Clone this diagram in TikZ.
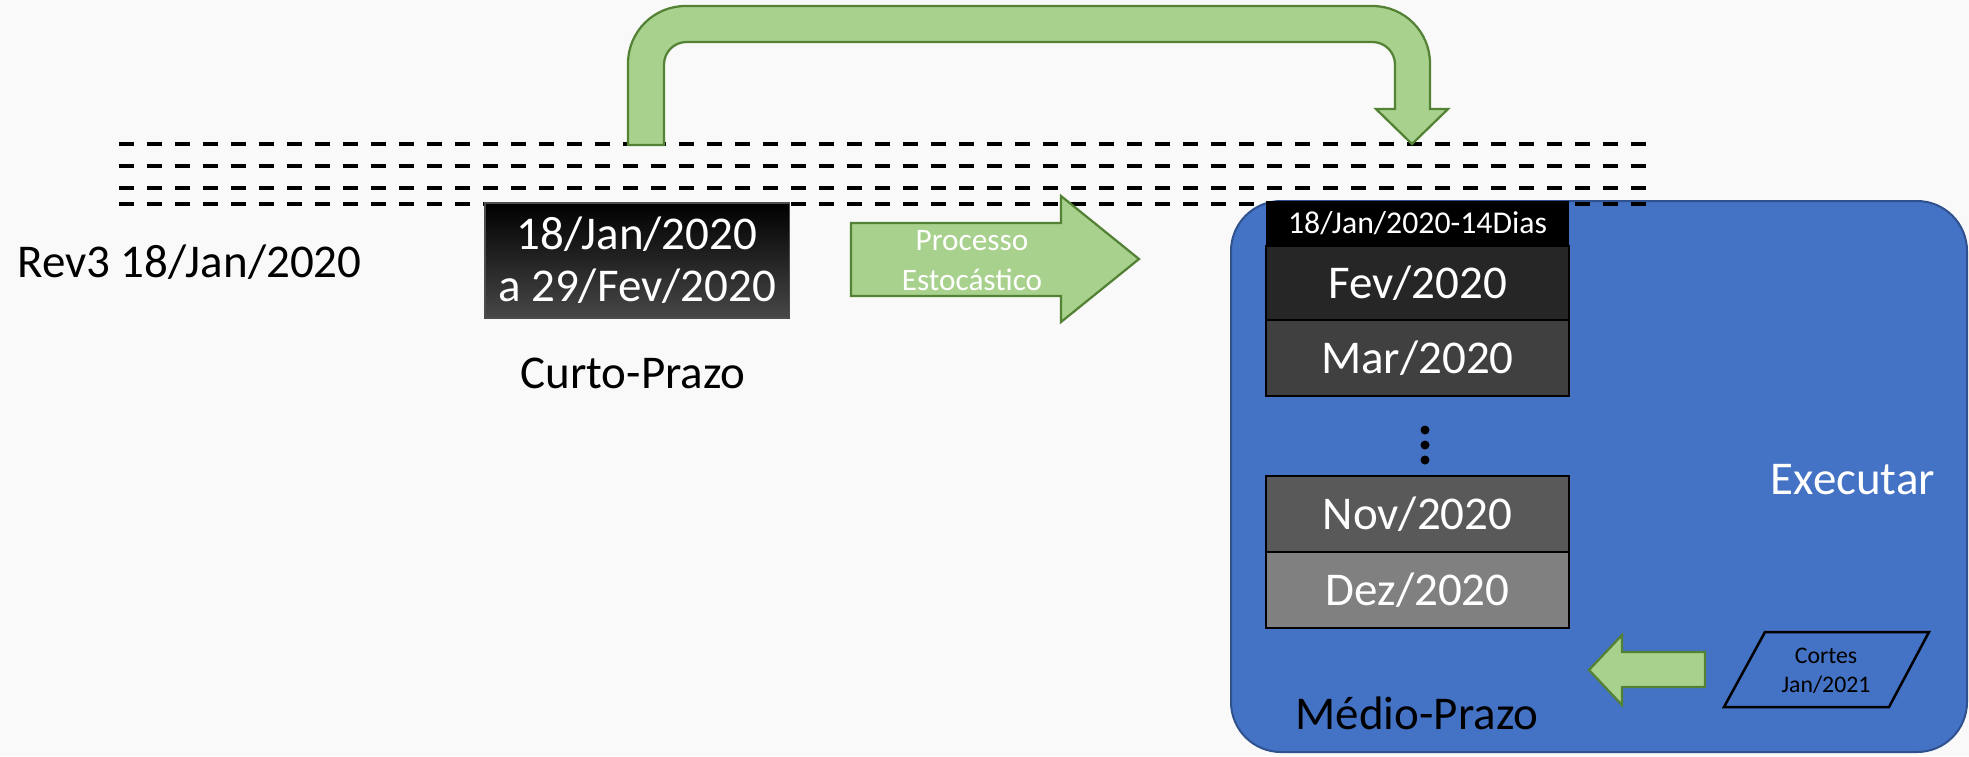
\documentclass[tikz,border=0pt]{standalone}
\usepackage{fontspec}
\setmainfont{Carlito}
\usetikzlibrary{positioning}
\definecolor{bgpage}{RGB}{249,249,249}
\definecolor{mpblue}{RGB}{68,114,196}
\definecolor{mpblueline}{RGB}{47,82,143}
\definecolor{arrfill}{RGB}{169,209,142}
\definecolor{arrline}{RGB}{84,130,53}

\begin{document}
\begin{tikzpicture}[x=0.4pt,y=-0.4pt,
  bigfont/.style={font=\fontsize{18.8}{20.8}\selectfont},
  monthbox/.style={draw=black,line width=0.8pt,text=white,bigfont,minimum width=121.2pt,minimum height=30.4pt,inner sep=0pt,outer sep=0pt},
  greenarrow/.style={fill=arrfill,draw=arrline,line width=0.9pt,line join=miter},
  dashline/.style={line width=1.6pt,dash pattern=on 6pt off 5.2pt}]
\fill[bgpage] (0,0) rectangle (1969,756);
\useasboundingbox (0,0) rectangle (1969,756);
\node[fill=mpblue,draw=mpblueline,line width=0.8pt,rounded corners=20pt,minimum width=294.4pt,minimum height=220.4pt,inner sep=0pt] (medio) at (1599,476.5) {};
\foreach \y in {144,166,188,204} \draw[dashline] (119,\y) -- (1647,\y);
\node[fill=black,text=white,font=\fontsize{12.7}{14}\selectfont,minimum width=121.2pt,minimum height=18pt,inner sep=0pt,outer sep=0pt] (dias) at (1417.5,223.5) {18/Jan/2020-14Dias};
\node[monthbox,fill=black!85,minimum height=29.6pt,below=0pt of dias] (fev) {Fev/2020};
\node[monthbox,fill=black!75,below=0pt of fev] (mar) {Mar/2020};
\foreach \y in {430,445,460} \fill[black] (1425,\y) circle (1.8pt);
\node[monthbox,fill=black!65] (nov) at (1417.5,514) {Nov/2020};
\node[monthbox,fill=black!50,below=0pt of nov] (dez) {Dez/2020};
\node[top color=black,bottom color=black!72,draw=black!70,line width=0.6pt,text=white,bigfont,align=center,minimum width=121.8pt,minimum height=46pt,inner sep=0pt] (curto) at (637,260.5) {18/Jan/2020\\a 29/Fev/2020};
\node[bigfont] (rev) at (189.5,262) {Rev3 18/Jan/2020};
\node[bigfont] (curtolbl) at (633,373) {Curto-Prazo};
\node[bigfont,text=white] (executar) at (1853,480) {Executar};
\node[bigfont] (mediolbl) at (1417,713) {Médio-Prazo};
\draw[greenarrow] (628,145) [rounded corners=23pt] -- (628,6) -- (1430,6) [sharp corners] -- (1430,109) -- (1448,109) -- (1412,144) -- (1376,109) -- (1395,109) [rounded corners=9pt] -- (1395,42) -- (664,42) [sharp corners] -- (664,145) -- cycle;
\draw[greenarrow] (851,223) -- (1061,223) -- (1061,196) -- (1139,259) -- (1061,322) -- (1061,296) -- (851,296) -- cycle;
\node[text=white,font=\fontsize{12.5}{16}\selectfont,align=center] (processo) at (972,261) {Processo\\Estocástico};
\draw[fill=mpblue,draw=black,line width=1pt] (1724,707) -- (1765,632) -- (1929,632) -- (1889,707) -- cycle;
\node[font=\fontsize{9.5}{11.6}\selectfont,align=center] (cortes) at (1826,671) {Cortes\\Jan/2021};
\draw[greenarrow] (1705,652) -- (1705,687) -- (1622,687) -- (1622,705) -- (1589,670) -- (1622,635) -- (1622,652) -- cycle;
\end{tikzpicture}
\end{document}
